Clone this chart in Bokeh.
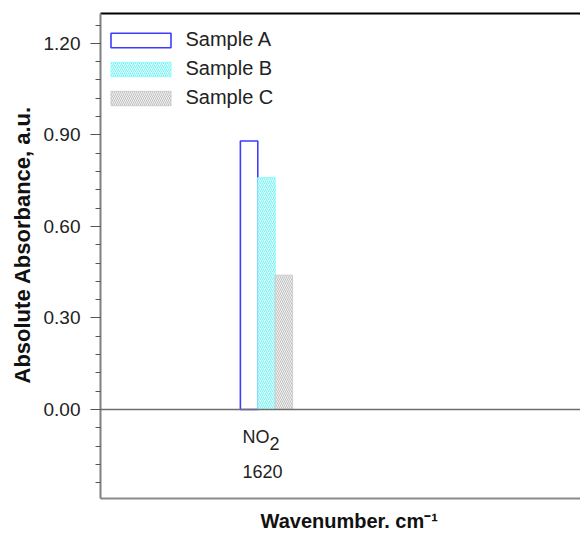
from bokeh.plotting import figure
from bokeh.models import (ColumnDataSource, Range1d, LinearAxis, FixedTicker,
                          SingleIntervalTicker, NumeralTickFormatter, Span,
                          Legend, LegendItem, Title)
from bokeh.core.properties import value
from bokeh.embed import file_html
from bokeh.resources import INLINE

# ---- data ----
samples = ["Sample A", "Sample B", "Sample C"]
absorbance = [0.88, 0.76, 0.44]
band_name = "NO"
band_sub = "2"
band_wavenumber = "1620"
y_ticks_interval = 0.30
x_title = "Wavenumber. cm\u207b\u00b9"
y_title = "Absolute Absorbance, a.u."

FONT = "Liberation Sans"

# styles per sample
fill_colors = ["white", "#e0ffff", "#f2f2f2"]
line_colors = ["#3c3cff", "#8ffcfc", "#cccccc"]
hatch_patterns = [None, "/", "\\"]
hatch_colors = [None, "#5eeeee", "#b4b4b4"]

bar_w = 1.0
group_x = 0.0

p = figure(frame_width=480, frame_height=485,
           x_range=Range1d(-9.54, 18.05), y_range=Range1d(-0.292, 1.298),
           output_backend="svg", toolbar_location=None,
           min_border_left=100, min_border_right=0,
           min_border_top=13, min_border_bottom=38)
p.background_fill_color = "white"
p.border_fill_color = "white"
p.outline_line_color = None
p.xgrid.visible = False
p.ygrid.visible = False

# zero line
p.add_layout(Span(location=0, dimension="width", line_color="#6e6e6e",
                  line_width=1.5))

renderers = []
for i, (s, v) in enumerate(zip(samples, absorbance)):
    src = ColumnDataSource(dict(x=[group_x + (i - 1) * bar_w], top=[v]))
    kw = dict(x="x", top="top", bottom=0, width=bar_w, source=src,
              fill_color=fill_colors[i], line_color=line_colors[i],
              line_width=1.6 if i == 0 else 1.0)
    if hatch_patterns[i]:
        kw.update(hatch_pattern=hatch_patterns[i], hatch_color=hatch_colors[i],
                  hatch_scale=4, hatch_weight=0.8)
    r = p.vbar(**kw)
    renderers.append(r)

# band labels below zero line
left_edge = group_x - 1.5 * bar_w
p.text(x=[left_edge], y=[-0.092], text=[band_name], x_offset=2,
       text_font=value(FONT), text_font_size="18px", text_color="#222222",
       text_align="left", text_baseline="middle")
p.text(x=[left_edge], y=[-0.092], text=[band_sub], x_offset=29, y_offset=6,
       text_font=value(FONT), text_font_size="18px", text_color="#222222",
       text_align="left", text_baseline="middle")
p.text(x=[left_edge], y=[-0.203], text=[band_wavenumber], x_offset=2,
       text_font=value(FONT), text_font_size="18px", text_color="#222222",
       text_align="left", text_baseline="middle")

# y axis
ya = p.yaxis[0]
ya.ticker = SingleIntervalTicker(interval=y_ticks_interval, num_minor_ticks=5)
ya.formatter = NumeralTickFormatter(format="0.00")
ya.major_label_text_font = FONT
ya.major_label_text_font_size = "19px"
ya.major_label_text_color = "#222222"
ya.major_tick_out = 10
ya.major_tick_in = 0
ya.minor_tick_out = 5
ya.minor_tick_in = 0
ya.major_tick_line_color = "#555555"
ya.minor_tick_line_color = "#555555"
ya.axis_line_color = "#808080"
ya.axis_line_width = 2
ya.major_label_standoff = 10

# x axis (bottom line only)
xa = p.xaxis[0]
xa.ticker = FixedTicker(ticks=[])
xa.axis_line_color = "#8a8a8a"
xa.axis_line_width = 2
xa.major_tick_line_color = None
xa.minor_tick_line_color = None

# top line
top = LinearAxis(ticker=FixedTicker(ticks=[]), axis_line_color="black",
                 axis_line_width=2, major_tick_line_color=None,
                 minor_tick_line_color=None)
p.add_layout(top, "above")

# axis titles
p.add_layout(Title(text=y_title, align="left", offset=115, standoff=12,
                   text_font=FONT, text_font_size="22px", text_font_style="bold",
                   text_color="#111111"), "left")
p.add_layout(Title(text=x_title, align="left", offset=160, standoff=19,
                   text_font=FONT, text_font_size="20px", text_font_style="bold",
                   text_color="#111111"), "below")

# legend
legend = Legend(items=[LegendItem(label=s, renderers=[r])
                       for s, r in zip(samples, renderers)],
                location=(2.5, 386), padding=0, margin=0,
                border_line_color=None, background_fill_alpha=0,
                glyph_width=75, glyph_height=18, label_height=29,
                spacing=0, label_standoff=8,
                label_text_font=FONT, label_text_font_size="20px",
                label_text_color="#222222")
p.add_layout(legend, "center")

open("out.html", "w").write(file_html(p, INLINE))
